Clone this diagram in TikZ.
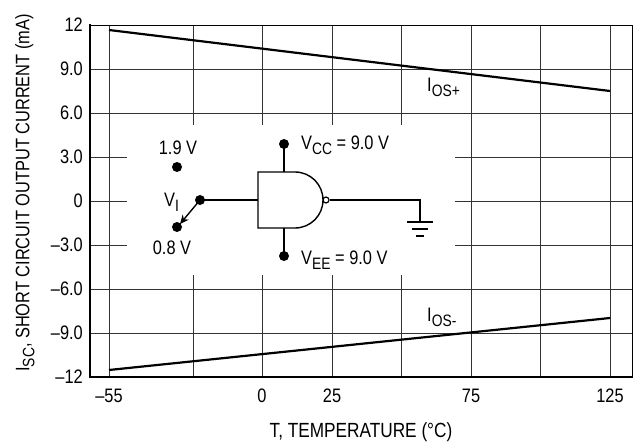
\documentclass[tikz,border=0pt]{standalone}
\usepackage{fontspec}
\setmainfont{Liberation Sans}[FakeStretch=0.84]
\usetikzlibrary{arrows.meta}
\newcommand\subtxt[1]{\raisebox{-5pt}{\fontsize{16.5}{18}\selectfont #1}}
\begin{document}
\begin{tikzpicture}[x=1pt,y=-1pt,
  font=\fontsize{19.5}{23}\selectfont,
  gridline/.style={line width=0.9pt,draw=black!80},
  dataline/.style={line width=2.2pt,draw=black},
  wire/.style={line width=1.4pt,draw=black},
  dot/.style={circle,fill=black,inner sep=0pt,minimum size=10pt},
  lbl/.style={inner sep=0pt}]
\useasboundingbox (0,0) rectangle (639,446);
% grid
\foreach \x in {109,193,262,332,401,471,540,610}
  \draw[gridline] (\x,25) -- (\x,377);
\foreach \y in {25,69,113,157,201,245,289,333,377}
  \draw[gridline] (90,\y) -- (632,\y);
% inset background
\fill[white] (127,125) rectangle (455,275);
% frame
\draw[line width=0.9pt] (90,25) rectangle (632,377);
\draw[line width=2pt] (90,24) -- (90,377) -- (633,377);
% tick labels
\foreach \y/\t in {25/12,69/9.0,113/6.0,157/3.0,201/0,245/–3.0,289/–6.0,333/–9.0,377/–12}
  \node[lbl,anchor=east] (ty\y) at (83,\y) {\t};
\foreach \x/\t in {109/–55,262/0,332/25,471/75,610/125}
  \node[lbl] (tx\x) at (\x,396) {\t};
\node[lbl,font=\fontsize{20.5}{24}\selectfont] (xtitle) at (361,432) {T, TEMPERATURE (°C)};
\node[lbl,rotate=90] (ytitle) at (25,193) {I\subtxt{SC}, SHORT CIRCUIT OUTPUT CURRENT (mA)};
% data lines
\coordinate (p1) at (109,30);
\coordinate (p2) at (610,91);
\coordinate (m1) at (109,370);
\coordinate (m2) at (610,318);
\draw[dataline] (p1) -- (p2);
\draw[dataline] (m1) -- (m2);
\node[lbl,anchor=base west] (iosp) at (427,92) {I\subtxt{OS+}};
\node[lbl,anchor=base west] (iosm) at (427,321) {I\subtxt{OS-}};
% circuit
\node[dot] (hi) at (177,167) {};
\node[dot] (piv) at (200,200) {};
\node[dot] (lo) at (177,227) {};
\node[lbl] (t19) at (178,148) {1.9 V};
\node[lbl] (t08) at (172,248) {0.8 V};
\node[lbl,anchor=base west] (vi) at (164,207) {V\subtxt{I}};
\draw[wire,-{Stealth[length=9pt,width=8pt]}] (piv.center) -- (180,224);
\coordinate (gin) at (258,200);
\draw[wire] (258,172) -- (295,172) arc[start angle=90,end angle=-90,radius=28pt] -- (258,228) -- cycle;
\node[circle,draw=black,line width=1.2pt,fill=white,inner sep=0pt,minimum size=6pt] (bub) at (326,200) {};
\draw[wire] (piv.center) -- (gin);
\coordinate (gnd) at (420,222);
\draw[wire] (bub.east) -- (420,200) -- (gnd);
\draw[wire] (407,222) -- (433,222);
\draw[wire] (412,229) -- (428,229);
\draw[wire] (416,236) -- (424,236);
\node[dot] (vcc) at (284,144) {};
\node[dot] (vee) at (284,256) {};
\draw[wire] (vcc.center) -- (284,172);
\draw[wire] (vee.center) -- (284,228);
\node[lbl,anchor=base west] (tvcc) at (301,150) {V\subtxt{CC} = 9.0 V};
\node[lbl,anchor=base west] (tvee) at (301,264) {V\subtxt{EE} = 9.0 V};
\end{tikzpicture}
\end{document}
